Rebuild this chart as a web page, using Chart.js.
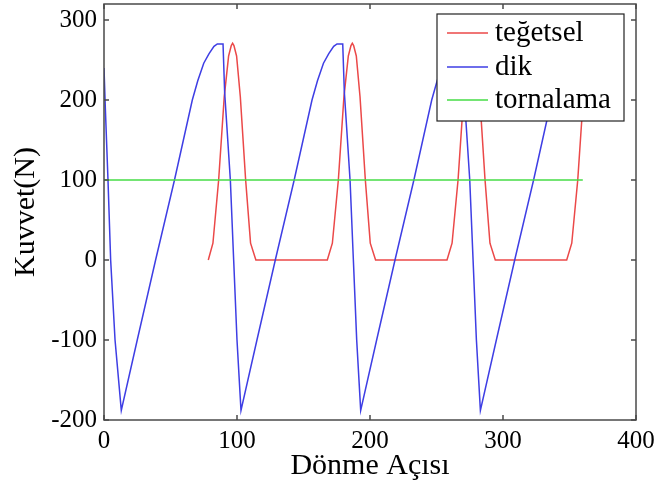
<!DOCTYPE html>
<html>
<head>
<meta charset="utf-8">
<script src="https://cdn.jsdelivr.net/npm/chart.js@4/dist/chart.umd.min.js"></script>
<style>
html,body{margin:0;padding:0;background:#fff;}
#wrap{width:658px;height:488px;position:relative;}
</style>
</head>
<body>
<div id="wrap"><canvas id="c"></canvas></div>
<script>
// ---- data ----
const seriesNames = ['teğetsel', 'dik', 'tornalama'];

const tegetselAngle = [78.4, 81.9, 86.2, 90.4, 93.7, 95.7, 96.7, 97.7, 99.7, 102.5, 106.5, 110.2, 114.2,
  167.9, 171.7, 176.2, 180.4, 183.7, 185.7, 186.7, 187.7, 189.7, 192.5, 196.5, 200.2, 204.2,
  257.9, 261.7, 266.2, 270.4, 273.7, 275.7, 276.7, 277.7, 279.7, 282.5, 286.5, 290.2, 294.2,
  347.9, 351.7, 356.2, 360];
const tegetselForce = [0, 21, 100, 204, 255, 268, 271, 268, 255, 204, 100, 21, 0,
  0, 21, 100, 204, 255, 268, 271, 268, 255, 204, 100, 21, 0,
  0, 21, 100, 204, 255, 268, 271, 268, 255, 204, 100, 21, 0,
  0, 21, 100, 194];

const dikAngle = [0, 1, 3, 5, 8.3, 13,
  25, 38.8, 53, 59.7, 66.4, 70.5, 75, 79, 82.7, 85.2, 89.5, 90.7, 95, 97.5, 100, 103,
  115, 128.8, 143, 149.7, 156.4, 160.5, 165, 169, 172.7, 175.2, 179.5, 180.7, 185, 187.5, 190, 193,
  205, 218.8, 233, 239.7, 246.4, 250.5, 255, 259, 262.7, 265.2, 269.5, 270.7, 275, 277.5, 280, 283,
  295, 308.8, 323, 329.7, 336.4, 340.5, 345, 349, 352.7, 355.2, 359.5, 360];
const dikForce = [240, 190, 100, 0, -100, -188,
  -100, 0, 100, 150, 200, 224, 246, 258, 267, 270, 270, 210, 100, 0, -100, -188,
  -100, 0, 100, 150, 200, 224, 246, 258, 267, 270, 270, 210, 100, 0, -100, -188,
  -100, 0, 100, 150, 200, 224, 246, 258, 267, 270, 270, 210, 100, 0, -100, -188,
  -100, 0, 100, 150, 200, 224, 246, 258, 267, 270, 270, 240];

const tornalamaAngle = [0, 360];
const tornalamaForce = [100, 100];

const xTicks = [0, 100, 200, 300, 400];
const yTicks = [-200, -100, 0, 100, 200, 300];

// ---- chart ----
const serif = "'Liberation Serif', 'Times New Roman', serif";
const toPts = (xs, ys) => xs.map((v, i) => ({x: v, y: ys[i]}));

const framePlugin = {
  id: 'frameAndLegend',
  afterDatasetsDraw(chart) {
    const {ctx, chartArea: a, scales: {x, y}} = chart;
    ctx.save();
    // axes box
    ctx.strokeStyle = '#4a4a4a';
    ctx.lineWidth = 1.5;
    ctx.strokeRect(a.left, a.top, a.right - a.left, a.bottom - a.top);
    ctx.beginPath();
    xTicks.forEach(v => {
      const px = x.getPixelForValue(v);
      ctx.moveTo(px, a.bottom); ctx.lineTo(px, a.bottom - 5);
      ctx.moveTo(px, a.top); ctx.lineTo(px, a.top + 5);
    });
    yTicks.forEach(v => {
      const py = y.getPixelForValue(v);
      ctx.moveTo(a.left, py); ctx.lineTo(a.left + 5, py);
      ctx.moveTo(a.right, py); ctx.lineTo(a.right - 5, py);
    });
    ctx.stroke();

    // legend box inside the plot (top right)
    const L = a.right - 199, R = a.right - 12, T = a.top + 10, B = a.top + 117;
    ctx.fillStyle = '#fff';
    ctx.fillRect(L, T, R - L, B - T);
    ctx.strokeStyle = '#222';
    ctx.lineWidth = 1.2;
    ctx.strokeRect(L, T, R - L, B - T);
    const rows = [T + 19, T + 53, T + 86];
    ctx.font = '29px ' + serif;
    ctx.textBaseline = 'middle';
    ctx.textAlign = 'left';
    chart.data.datasets.forEach((ds, i) => {
      ctx.strokeStyle = ds.borderColor;
      ctx.lineWidth = 1.6;
      ctx.beginPath();
      ctx.moveTo(L + 10, rows[i]);
      ctx.lineTo(L + 51, rows[i]);
      ctx.stroke();
      ctx.fillStyle = '#000';
      ctx.fillText(ds.label, L + 58, rows[i]);
    });
    ctx.restore();
  }
};

new Chart(document.getElementById('c'), {
  type: 'line',
  data: {
    datasets: [
      {label: seriesNames[0], data: toPts(tegetselAngle, tegetselForce), borderColor: 'rgb(235,72,72)', order: 3},
      {label: seriesNames[1], data: toPts(dikAngle, dikForce), borderColor: 'rgb(62,62,228)', order: 2},
      {label: seriesNames[2], data: toPts(tornalamaAngle, tornalamaForce), borderColor: 'rgb(70,220,70)', order: 1}
    ]
  },
  options: {
    responsive: true,
    maintainAspectRatio: false,
    animation: false,
    devicePixelRatio: 1,
    layout: {padding: {top: 4, right: 22, bottom: 0, left: 0}},
    elements: {
      line: {borderWidth: 1.5, tension: 0, fill: false},
      point: {radius: 0, hoverRadius: 0}
    },
    plugins: {legend: {display: false}, tooltip: {enabled: false}},
    scales: {
      x: {
        type: 'linear', min: 0, max: 400,
        grid: {display: false, drawTicks: false},
        border: {display: false},
        afterBuildTicks: s => { s.ticks = xTicks.map(v => ({value: v})); },
        afterFit: s => { s.height = 68; s.paddingLeft = 0; s.paddingRight = 0; },
        ticks: {color: '#000', padding: 6, font: {family: serif, size: 25}, maxRotation: 0},
        title: {display: true, text: 'Dönme Açısı', color: '#000', font: {family: serif, size: 30}, padding: {top: 0, bottom: 4}}
      },
      y: {
        type: 'linear', min: -200, max: 320,
        grid: {display: false, drawTicks: false},
        border: {display: false},
        afterBuildTicks: s => { s.ticks = yTicks.map(v => ({value: v})); },
        afterFit: s => { s.width = 104; s.paddingTop = 0; s.paddingBottom = 0; },
        ticks: {color: '#000', padding: 7, font: {family: serif, size: 25}},
        title: {display: true, text: 'Kuvvet(N)', color: '#000', font: {family: serif, size: 30}, padding: {top: 8, bottom: 0}}
      }
    }
  },
  plugins: [framePlugin]
});
</script>
</body>
</html>
